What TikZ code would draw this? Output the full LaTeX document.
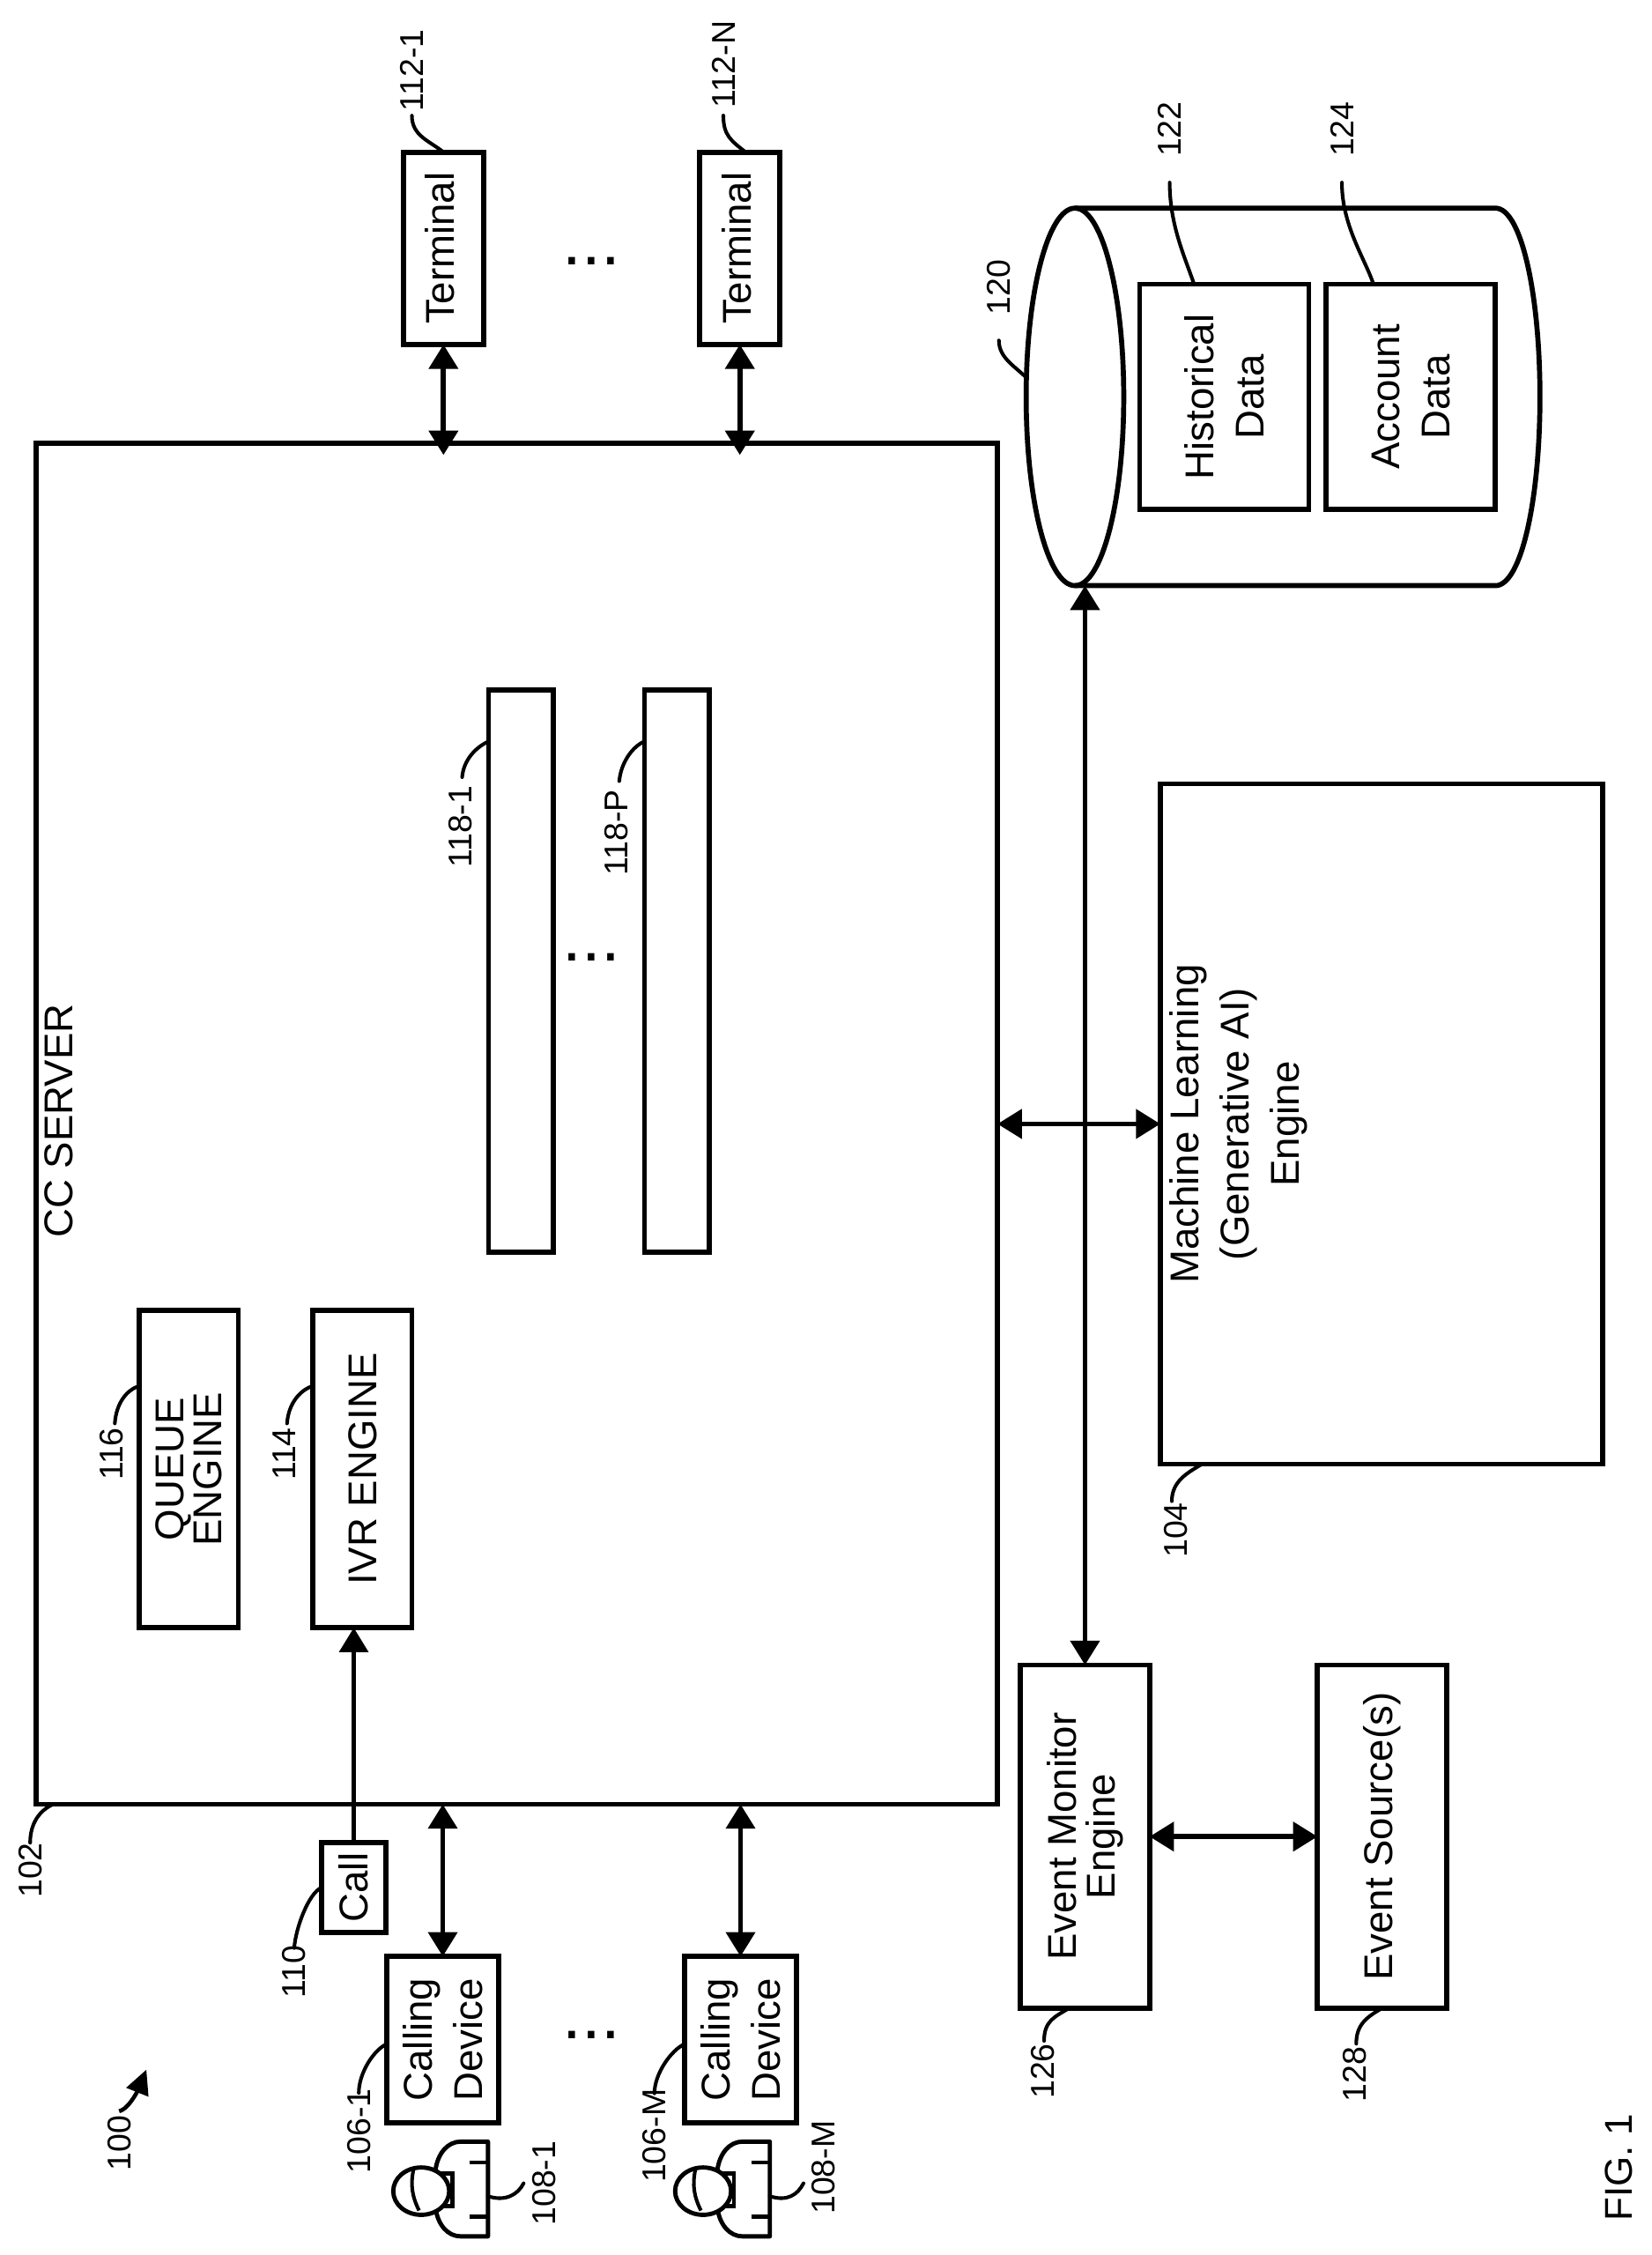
\documentclass[tikz,border=0pt]{standalone}
\usepackage{fontspec}
\setmainfont{Liberation Sans}
\usetikzlibrary{arrows.meta,shapes.geometric}

\tikzset{
    box/.style={draw, line width=3.5pt, rotate=90, inner sep=0pt, outer sep=0pt, align=center,
	font=\fontsize{28}{35}\selectfont},
    tightbox/.style={box, font=\fontsize{28}{27}\selectfont},
    termbox/.style={box, text depth=5pt},
    lbl/.style={rotate=90, inner sep=0pt, outer sep=0pt, font=\fontsize{23}{26}\selectfont},
    txt/.style={rotate=90, inner sep=0pt, outer sep=0pt, align=center, font=\fontsize{28}{35}\selectfont},
    gap/.style={inner sep=0pt, font=\fontsize{48}{48}\selectfont},
    leader/.style={draw, line width=2.5pt, line cap=round},
    biarr/.style={line width=3.5pt, {Triangle[length=17pt,width=20pt]}-{Triangle[length=17pt,width=20pt]}},
    oneway/.style={line width=2.8pt, -{Triangle[length=17pt,width=20pt]}},
    personicon/.pic={
	\draw [line width=3pt, line join=round] (-36.6,-13) .. controls (-35,-25) and (-28,-33) .. (-19,-33)
	    -- (0,-33) -- (0,33) -- (-19,33) .. controls (-28,33) and (-35,25) .. (-36.6,13);
	\draw [line width=3pt] (-13,-18.5) -- (0,-18.5);
	\draw [line width=3pt] (-13,19.5) -- (0,19.5);
	\draw [line width=3pt] (-35,-11) -- (-25,-11) -- (-25,12) -- (-35,12);
	\draw [line width=3pt, fill=white] (-46.5,1.5) ellipse [x radius=19.5, y radius=16.5];
	\draw [line width=2.5pt] (-52,-13) .. controls (-54,-3) and (-53,5) .. (-48,15);
	\coordinate (-hip) at (0,5);
    },
}

\begin{document}
\begin{tikzpicture}[x=1pt, y=-1pt]
\useasboundingbox (0,0) rectangle (1151,1571);

\node [box, minimum width=948, minimum height=670] (srv) at (360,783) {};
\node [txt] (srvtext) at (41,781) {CC SERVER};

% terminals
\node [termbox, minimum width=134, minimum height=56] (terma) at (309,173) {Terminal};
\node [termbox, minimum width=134, minimum height=56] (termn) at (515.5,173) {Terminal};
\node [gap] (termgap) at (412,182) {...};
\node [lbl] (l112a) at (287,49) {112-1};
\node [lbl] (l112n) at (504,45) {112-N};
\draw [leader] ([yshift=-3pt]l112a.west) .. controls +(0,14) and +(-10,-8) .. (terma.east);
\draw [leader] ([yshift=-5pt]l112n.west) .. controls +(0,14) and +(-10,-8) .. ([xshift=4pt]termn.east);
\draw [biarr] (terma.west) -- ([yshift=-8pt]terma.west |- srv.east);
\draw [biarr] (termn.west) -- ([yshift=-8pt]termn.west |- srv.east);

% data store
\node [draw, ellipse, line width=3.5pt, inner sep=0pt, outer sep=0pt, minimum width=68, minimum height=263] (dbend) at (749,276.5) {};
\draw [line width=3.5pt] (dbend.north) -- (1042,145) .. controls (1060,145) and (1073,205) .. (1073,276.5)
    .. controls (1073,348) and (1060,408) .. (1042,408) -- (dbend.south);
\node [box, minimum width=157, minimum height=118] (hist) at (853,276.5) {Historical\\Data};
\node [box, minimum width=157, minimum height=118] (acct) at (983,276.5) {Account\\Data};
\node [lbl] (l120) at (696,200) {120};
\node [lbl] (l122) at (815,90) {122};
\node [lbl] (l124) at (935,90) {124};
\draw [leader] ([yshift=-18pt]l120.west) .. controls +(0,12) and +(-8,-8) .. (dbend.west |- 0,263);
\draw [leader] ([yshift=-18pt]l122.west) .. controls +(0,30) and +(-6,-18) .. ([xshift=-21pt]hist.east);
\draw [leader] ([yshift=-18pt]l124.west) .. controls +(0,30) and +(-6,-18) .. ([xshift=-26pt]acct.east);

% agent panels
\node [box, minimum width=392, minimum height=45] (pana) at (363,676.5) {};
\node [box, minimum width=392, minimum height=45] (panp) at (471.5,676.5) {};
\node [gap] (pangap) at (412,667) {...};
\node [lbl] (l118a) at (321,576) {118-1};
\node [lbl] (l118p) at (429.5,580) {118-P};
\draw [leader] (l118a.east) ++(1,-6) .. controls +(1,-12) and +(-9,4) .. ([yshift=160pt]pana.north);
\draw [leader] (l118p.east) ++(2,-6) .. controls +(1,-12) and +(-9,4) .. ([yshift=160pt]panp.north);

% engines
\node [box, minimum width=221, minimum height=69, font=\fontsize{28}{26}\selectfont] (queue) at (131.5,1023.5) {QUEUE\\ENGINE};
\node [box, minimum width=221, minimum height=69] (ivr) at (252.5,1023.5) {IVR ENGINE};
\node [lbl] (l116) at (78,1013) {116};
\node [lbl] (l114) at (198,1013) {114};
\draw [leader] (l116.east) ++(2,-3) .. controls +(1,-14) and +(-9,3) .. ([yshift=58pt]queue.north);
\draw [leader] (l114.east) ++(2,-3) .. controls +(1,-14) and +(-9,3) .. ([yshift=58pt]ivr.north);

% machine learning
\node [box, minimum width=474, minimum height=308] (mleng) at (962.5,783) {};
\node [txt] (mltext) at (863,783) {Machine Learning\\(Generative AI)\\Engine};
\node [lbl] (l104) at (819.5,1066) {104};
\draw [leader] (l104.east) ++(-3,-1) .. controls +(0,-14) and +(-10,6) .. ([xshift=-125pt]mleng.west);
\draw [biarr] (srv.south) -- (mleng.north);

% event path
\node [tightbox, minimum width=239, minimum height=90] (emon) at (756,1279.5) {Event Monitor\\Engine};
\node [box, minimum width=239, minimum height=90] (esrc) at (963,1279.5) {Event Source(s)};
\node [lbl] (l126) at (726.5,1443) {126};
\node [lbl] (l128) at (944,1445) {128};
\draw [leader] (l126.east) ++(1,-2) .. controls +(0,-14) and +(-10,6) .. ([xshift=-11pt]emon.west);
\draw [leader] (l128.east) ++(1,-2) .. controls +(0,-14) and +(-10,6) .. (esrc.west);
\draw [biarr] (emon.east |- dbend.south) -- (emon.east);
\draw [biarr] (emon.south) -- (esrc.north);

% callers
\node [box, minimum width=63, minimum height=45] (call) at (246.5,1315) {Call};
\node [box, minimum width=116, minimum height=78] (calla) at (308.5,1421) {Calling\\Device};
\node [box, minimum width=116, minimum height=78] (callm) at (516,1421) {Calling\\Device};
\node [gap] (callgap) at (412,1418) {...};
\node [lbl] (l102) at (21,1303) {102};
\node [lbl] (l110) at (205,1373.5) {110};
\node [lbl] (l106a) at (250,1484.5) {106-1};
\node [lbl] (l106m) at (456,1488) {106-M};
\node [lbl] (l108a) at (379,1521) {108-1};
\node [lbl] (l108m) at (574,1510) {108-M};
\node [lbl] (l100) at (83,1493) {100};
\pic (usra) at (340,1525) {personicon};
\pic (usrm) at (536.4,1525) {personicon};
\draw [leader] (l102.east) .. controls +(0,-14) and +(-9,4) .. ([xshift=12pt]srv.north west);
\draw [leader] ([yshift=-2pt]l110.east) .. controls +(1,-14) and +(-9,4) .. ([yshift=0pt]call.north);
\draw [leader] ([yshift=-3pt]l106a.east) .. controls +(0,-14) and +(-9,4) .. ([yshift=-3pt]calla.north);
\draw [leader] ([yshift=-3pt]l106m.east) .. controls +(0,-14) and +(-9,4) .. ([yshift=-3pt]callm.north);
\draw [leader] (usra-hip) .. controls +(12,4) and +(-4,8) .. ([xshift=-6pt]l108a.north);
\draw [leader] (usrm-hip) .. controls +(12,4) and +(-4,8) .. ([xshift=-6pt,yshift=-11pt]l108m.north);
\draw [line width=2.8pt, -{Triangle[length=17pt,width=16pt]}] ([yshift=3pt]l100.east) .. controls +(8,-2) and +(-4,10) .. ++(19,-29);
\draw [oneway] (call.east) -- (call.east |- ivr.west);
\draw [biarr] (calla.east) -- (calla.east |- srv.west);
\draw [biarr] (callm.east) -- (callm.east |- srv.west);

\node [lbl, font=\fontsize{27}{30}\selectfont] (fig) at (1128,1510) {FIG. 1};
\end{tikzpicture}
\end{document}
